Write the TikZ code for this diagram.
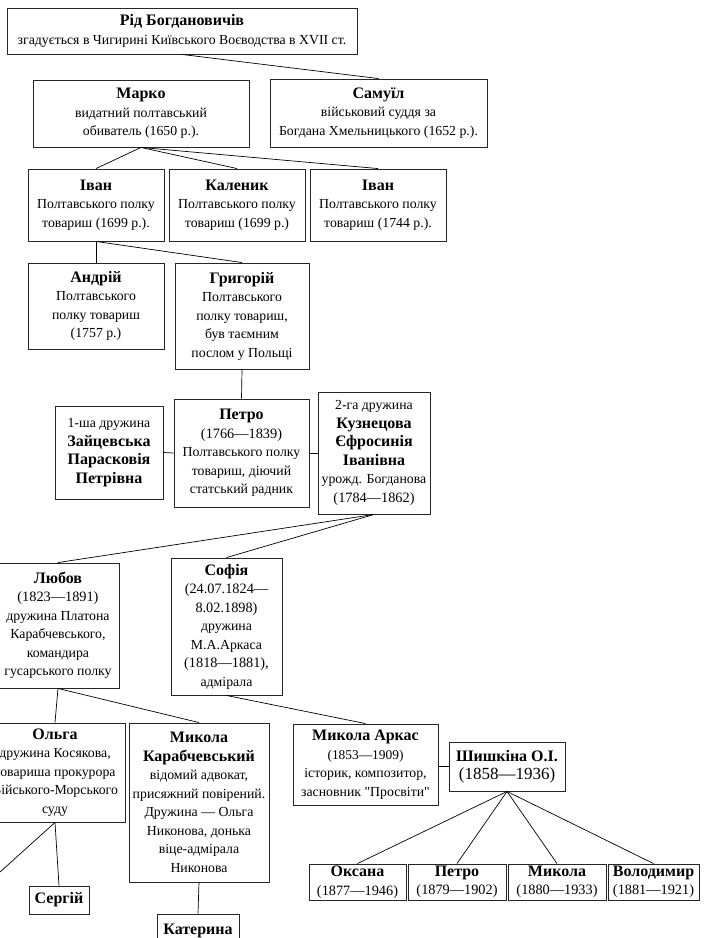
\documentclass[tikz,border=0pt]{standalone}
\usepackage{fontspec}
\setmainfont{Liberation Serif}
\newfontfamily\plainquote{Liberation Serif}[Ligatures=ResetAll]

\newcommand{\pname}[1]{{\fontsize{16}{18.5}\selectfont\bfseries #1}}
\newcommand{\pdate}[1]{{\fontsize{14.3}{18.5}\selectfont #1}}

\begin{document}
\begin{tikzpicture}[x=1pt, y=-1pt,
		every node/.style={font=\fontsize{13.8}{18.5}\selectfont},
		person/.style={draw=black!85, line width=0.9pt, align=center, inner sep=0pt},
		link/.style={line width=0.7pt}]
	\useasboundingbox (0,0) rectangle (704,938);
	\clip (0,0) rectangle (704,938);

	% Top of the family
	\node[person, minimum width=350, minimum height=46] (rid) at (182,31)
		{\pname{Рід Богдановичів}\\згадується в Чигирині Київського Воєводства в XVII ст.};
	\node[person, minimum width=216, minimum height=67] (marko) at (141,113.5)
		{\pname{Марко}\\видатний полтавський\\обиватель (1650 р.).};
	\node[person, minimum width=217, minimum height=68] (samuil) at (378.5,113)
		{\pname{Самуїл}\\військовий суддя за\\Богдана Хмельницького (1652 р.).};

	% Sons of Marko
	\node[person, minimum width=136, minimum height=72] (ivana) at (96,205)
		{\pname{Іван}\\Полтавського полку\\товариш (1699 р.).};
	\node[person, minimum width=136, minimum height=72] (kalenyk) at (237,205)
		{\pname{Каленик}\\Полтавського полку\\товариш (1699 р.)};
	\node[person, minimum width=136, minimum height=72] (ivanb) at (378,205)
		{\pname{Іван}\\Полтавського полку\\товариш (1744 р.).};

	% Sons of Ivan
	\node[person, minimum width=136, minimum height=86] (andrii) at (96,306)
		{\pname{Андрій}\\Полтавського\\полку товариш\\(1757 р.)};
	\node[person, minimum width=134, minimum height=106] (hryhorii) at (242,316)
		{\pname{Григорій}\\Полтавського\\полку товариш,\\був таємним\\послом у Польщі};

	% Petro and his wives
	\node[person, minimum width=108, minimum height=93] (zaitsevska) at (109,452.5)
		{1-ша дружина\\\pname{Зайцевська}\\\pname{Парасковія}\\\pname{Петрівна}};
	\node[person, minimum width=135, minimum height=108] (petro) at (241.5,453)
		{\pname{Петро}\\\pdate{(1766—1839)}\\Полтавського полку\\товариш, діючий\\статський радник};
	\node[person, minimum width=112, minimum height=122] (kuznetsova) at (374,453)
		{2-га дружина\\\pname{Кузнецова}\\\pname{Єфросинія}\\\pname{Іванівна}\\урожд. Богданова\\\pdate{(1784—1862)}};

	% Daughters
	\node[person, minimum width=122, minimum height=125] (liubov) at (58,625.5)
		{\pname{Любов}\\\pdate{(1823—1891)}\\дружина Платона\\Карабчевського,\\командира\\гусарського полку};
	\node[person, minimum width=111, minimum height=137] (sofia) at (226.5,626.5)
		{\pname{Софія}\\\pdate{(24.07.1824—}\\\pdate{8.02.1898)}\\дружина\\М.А.Аркаса\\\pdate{(1818—1881),}\\адмірала};

	% Grandchildren
	\node[person, minimum width=140, minimum height=99] (olha) at (55,772.5)
		{\pname{Ольга}\\дружина Косякова,\\товариша прокурора\\Війського-Морського\\суду};
	\node[person, minimum width=140, minimum height=159] (mykolak) at (199,802.5)
		{\pname{Микола}\\\pname{Карабчевський}\\відомий адвокат,\\присяжний повірений.\\Дружина — Ольга\\Никонова, донька\\віце-адмірала\\Никонова};
	\node[person, minimum width=145, minimum height=81] (arkas) at (365.5,764.5)
		{\pname{Микола Аркас}\\{\fontsize{13.4}{18.5}\selectfont(1853—1909)}\\історик, композитор,\\засновник {\plainquote"}Просвіти{\plainquote"}};
	\node[person, minimum width=116, minimum height=49] (shyshkina) at (507,766.5)
		{\pname{Шишкіна О.І.}\\{\fontsize{17}{18.5}\selectfont(1858—1936)}};

	% Great-grandchildren
	\node[person, minimum width=60, minimum height=28] (serhii) at (59,900) {\pname{Сергій}};
	\node[person, minimum width=82, minimum height=34] (kateryna) at (198,931) {\pname{Катерина}};
	\node[person, minimum width=97, minimum height=36] (oksana) at (357.5,882)
		{\pname{Оксана}\\\pdate{(1877—1946)}};
	\node[person, minimum width=98, minimum height=36] (petrob) at (457,882)
		{\pname{Петро}\\\pdate{(1879—1902)}};
	\node[person, minimum width=98, minimum height=36] (mykolab) at (557,882)
		{\pname{Микола}\\\pdate{(1880—1933)}};
	\node[person, minimum width=91, minimum height=36] (volodymyr) at (653.5,882)
		{\pname{Володимир}\\\pdate{(1881—1921)}};
	\coordinate (olhaleft) at (-30,899);

	% Lines of descent
	\draw[link] (rid.south) -- (samuil.north);
	\draw[link] (marko.south) -- (ivana.north);
	\draw[link] (marko.south) -- (kalenyk.north);
	\draw[link] (marko.south) -- (ivanb.north);
	\draw[link] (ivana.south) -- (andrii.north);
	\draw[link] (ivana.south) -- (hryhorii.north);
	\draw[link] (hryhorii.south) -- (petro.north);
	\draw[link] (kuznetsova.south) -- (liubov.north);
	\draw[link] (kuznetsova.south) -- (sofia.north);
	\draw[link] (liubov.south) -- (olha.north);
	\draw[link] (liubov.south) -- (mykolak.north);
	\draw[link] (sofia.south) -- (arkas.north);
	\draw[link] (olha.south) -- (serhii.north);
	\draw[link] (olha.south) -- (olhaleft);
	\draw[link] (mykolak.south) -- (kateryna.north);
	\foreach \child in {oksana, petrob, mykolab, volodymyr}
		\draw[link] (shyshkina.south) -- (\child.north);

	% Marriages
	\draw[link] (zaitsevska.east) -- (petro.west);
	\draw[link] (petro.east) -- (kuznetsova.west);
	\draw[link] (shyshkina.west) -- (shyshkina.west -| arkas.east);
\end{tikzpicture}
\end{document}
